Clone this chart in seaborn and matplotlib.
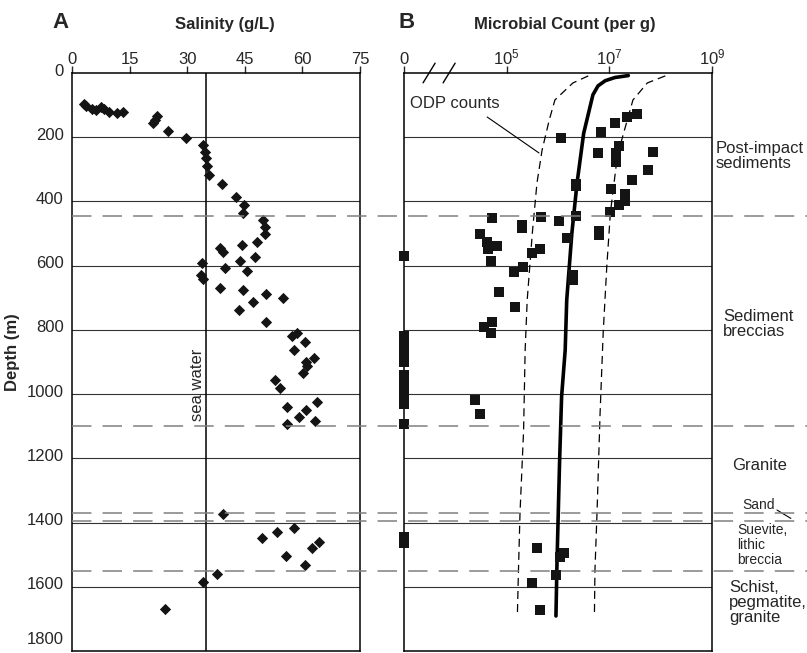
import numpy as np
import seaborn as sns
import matplotlib.pyplot as plt
from matplotlib import transforms
from matplotlib.lines import Line2D
from matplotlib.ticker import NullLocator

sns.set_style("ticks")
plt.rcParams["font.family"] = ["Liberation Sans", "DejaVu Sans"]
plt.rcParams["mathtext.fontset"] = "custom"
plt.rcParams["mathtext.rm"] = "Liberation Sans"
plt.rcParams["lines.scale_dashes"] = False

# Panel A: pore water salinity (g/L) vs depth (m)
salinity = [3.0, 3.6, 5.3, 6.3, 7.5, 8.3, 9.6, 11.6, 13.3,
            22.1, 21.7, 21.2, 25.1, 29.7, 34.0, 34.6, 34.8, 35.1, 35.8, 39.1,
            42.6, 44.7, 44.5, 49.8, 50.3, 50.3, 48.3, 44.4, 38.5, 39.4, 47.7,
            43.8, 39.8, 45.7, 33.9, 33.5, 34.2, 38.6, 44.5, 50.4, 55.0, 47.2,
            43.5, 50.5, 57.2, 58.5, 60.8, 57.9, 63.1, 60.9, 61.3, 60.1, 52.9,
            54.2, 56.1, 63.7, 60.9, 59.2, 56.1, 63.3, 39.4, 49.6, 53.4, 57.7,
            55.7, 62.4, 64.4, 60.7, 37.8, 34.2, 24.2]
salinity_depth = [97, 102, 112, 115, 107, 112, 122, 125, 120,
                  134, 145, 155, 181, 203, 224, 245, 265, 289, 317, 346,
                  385, 411, 437, 458, 480, 501, 525, 535, 545, 557, 572,
                  585, 607, 617, 593, 629, 643, 668, 676, 689, 702, 714,
                  738, 775, 819, 809, 837, 862, 888, 901, 914, 935, 956,
                  982, 1040, 1024, 1050, 1072, 1094, 1083, 1374, 1447, 1430, 1416,
                  1504, 1479, 1461, 1532, 1561, 1586, 1670]
sea_water = 35

# Panel B: microbial counts (log10 per g) vs depth (m)
count_log = [7.54, 7.34, 7.11, 6.84, 6.05, 7.19, 6.78, 7.13, 7.13, 7.85,
             7.76, 7.45, 6.35, 6.35, 7.03, 7.31, 7.31, 7.18, 7.02, 4.71,
             5.66, 6.35, 6.01, 5.29, 5.29, 6.79, 6.79, 4.48, 6.17, 4.61,
             4.81, 4.64, 5.64, 5.49, 4.70, 5.31, 5.14, 6.29, 6.29, 4.86,
             5.16, 4.71, 4.56, 4.70, 4.38, 4.48, 5.59, 6.12, 6.03, 5.96,
             5.50, 5.65]
count_depth = [127, 138, 155, 183, 203, 228, 250, 250, 276, 245,
               302, 333, 346, 353, 362, 378, 399, 411, 432, 450,
               448, 445, 460, 473, 483, 491, 504, 501, 515, 525,
               538, 549, 549, 562, 585, 605, 619, 629, 645, 683,
               730, 775, 790, 809, 1017, 1063, 1480, 1494, 1508, 1564,
               1588, 1672]
zero_count_depth = [570, 818, 832, 846, 860, 874, 888, 900, 940, 962,
                    985, 1000, 1015, 1030, 1094, 1445, 1465]

# ODP regression and prediction limits
odp_mean_log = [7.37, 7.11, 6.92, 6.78, 6.68, 6.50, 6.37, 6.27, 6.17, 6.14, 6.07, 6.03, 5.98, 5.96]
odp_mean_depth = [8, 14, 24, 40, 68, 188, 344, 499, 707, 863, 1008, 1215, 1527, 1691]
odp_low_log = [6.59, 6.29, 5.94, 5.83, 5.69, 5.59, 5.50, 5.40, 5.36, 5.33, 5.26, 5.23, 5.21]
odp_low_depth = [9, 31, 84, 146, 240, 343, 498, 707, 863, 1112, 1370, 1548, 1679]
odp_high_log = [8.09, 7.74, 7.46, 7.24, 7.13, 7.02, 6.95, 6.88, 6.82, 6.76, 6.72, 6.71]
odp_high_depth = [9, 31, 84, 209, 293, 436, 604, 810, 1059, 1370, 1548, 1679]

depth_ticks = list(range(0, 1801, 200))
salinity_ticks = [0, 15, 30, 45, 60, 75]
count_ticks = [1e3, 1e5, 1e7, 1e9]
count_tick_labels = ["0", r"$\mathregular{10^5}$", r"$\mathregular{10^7}$", r"$\mathregular{10^9}$"]
unit_boundaries = [445, 1098, 1371, 1394, 1550]

W, H = 807, 653
fig = plt.figure(figsize=(W / 100, H / 100), dpi=100)
axA = fig.add_axes([72 / W, 1 - 651 / H, 288 / W, 578 / H])
axB = fig.add_axes([404 / W, 1 - 651 / H, 308 / W, 578 / H])

ink = "#141414"

# ---- panel A ----
for d in depth_ticks[1:-1]:
    axA.axhline(d, color="#333333", lw=0.8, zorder=1)
axA.axvline(sea_water, color="k", lw=1.1, zorder=2)
sns.scatterplot(x=salinity, y=salinity_depth, marker="D", s=33, color=ink,
                linewidth=0, ax=axA, zorder=3)
axA.set_xlim(0, 75)
axA.set_ylim(1800, 0)
axA.xaxis.set_ticks_position("top")
axA.set_xticks(salinity_ticks)
axA.set_yticks(depth_ticks)
axA.tick_params(axis="x", direction="out", length=5, width=1, pad=-1, labelsize=12,
                top=True, bottom=False, labeltop=True, labelbottom=False)
axA.tick_params(axis="y", length=0, pad=6, labelsize=12)
offset = transforms.ScaledTranslation(0, 0.035, fig.dpi_scale_trans)
ylabels = axA.get_yticklabels()
for lab in ylabels:
    lab.set_transform(lab.get_transform() + offset)
ylabels[-1].set_va("bottom")
axA.text(34.6, 972, "sea water", rotation=90, ha="right", va="center", fontsize=12)

# ---- panel B ----
axB.set_xscale("log")
for d in depth_ticks[1:-1]:
    axB.axhline(d, color="#333333", lw=0.8, zorder=1)
sns.lineplot(x=10 ** np.array(odp_low_log), y=odp_low_depth, sort=False, estimator=None,
             color="k", lw=0.9, linestyle=(0, (5.8, 3.6)), ax=axB, zorder=2)
sns.lineplot(x=10 ** np.array(odp_high_log), y=odp_high_depth, sort=False, estimator=None,
             color="k", lw=0.9, linestyle=(0, (5.8, 3.6)), ax=axB, zorder=2)
sns.lineplot(x=10 ** np.array(odp_mean_log), y=odp_mean_depth, sort=False, estimator=None,
             color="k", lw=2.6, ax=axB, zorder=2)
sns.scatterplot(x=10 ** np.array(count_log), y=count_depth, marker="s", s=50, color=ink,
                linewidth=0, ax=axB, zorder=3)
sns.scatterplot(x=[1e3] * len(zero_count_depth), y=zero_count_depth, marker="s", s=50,
                color=ink, linewidth=0, ax=axB, zorder=3, clip_on=False)
axB.set_xlim(1e3, 1e9)
axB.set_ylim(1800, 0)
axB.xaxis.set_ticks_position("top")
axB.set_xticks(count_ticks)
axB.set_xticklabels(count_tick_labels)
axB.xaxis.set_minor_locator(NullLocator())
axB.tick_params(axis="x", direction="out", length=5, width=1, pad=-1, labelsize=12,
                top=True, bottom=False, labeltop=True, labelbottom=False)
axB.tick_params(axis="y", left=False, labelleft=False)

# axis break marks
for x0 in (0.062, 0.127):
    axB.plot([x0, x0 + 0.039], [0.983, 1.017], transform=axB.transAxes,
             color="k", lw=1.0, clip_on=False)

axB.text(0.02, 0.948, "ODP counts", transform=axB.transAxes, fontsize=12,
         ha="left", va="center")
axB.plot([10 ** 4.62, 10 ** 5.63], [137, 249], color="k", lw=0.8)

for ax in (axA, axB):
    ax.set_xlabel("")
    ax.set_ylabel("")
    for sp in ax.spines.values():
        sp.set_visible(True)
        sp.set_color("k")
        sp.set_linewidth(1.1)

# stratigraphic unit labels
bt = transforms.blended_transform_factory(axB.transAxes, axB.transData)
axB.text(1.013, 258, "Post-impact\nsediments", transform=bt, fontsize=12, ha="left",
         va="center", linespacing=1.05, clip_on=False)
axB.text(1.036, 782, "Sediment\nbreccias", transform=bt, fontsize=12, ha="left",
         va="center", linespacing=1.05, clip_on=False)
axB.text(1.065, 1221, "Granite", transform=bt, fontsize=12, ha="left", va="center",
         clip_on=False)
axB.text(1.100, 1345, "Sand", transform=bt, fontsize=10, ha="left", va="center",
         clip_on=False)
axB.plot([1.211, 1.256], [1361, 1387], transform=bt, color="k", lw=0.8, clip_on=False)
axB.text(1.081, 1470, "Suevite,\nlithic\nbreccia", transform=bt, fontsize=10, ha="left",
         va="center", linespacing=1.05, clip_on=False)
axB.text(1.055, 1650, "Schist,\npegmatite,\ngranite", transform=bt, fontsize=12,
         ha="left", va="center", linespacing=1.0, clip_on=False)

# unit boundaries across both panels
ft = transforms.blended_transform_factory(fig.transFigure, axA.transData)
for d in unit_boundaries:
    fig.add_artist(Line2D([72 / W, 1.0], [d, d], transform=ft, color="#808080",
                          lw=1.1, dashes=(14, 8)))

fig.text(225 / W, 1 - 25 / H, "Salinity (g/L)", ha="center", va="center",
         fontsize=12, fontweight="bold")
fig.text(565 / W, 1 - 25 / H, "Microbial Count (per g)", ha="center", va="center",
         fontsize=12, fontweight="bold")
fig.text(52 / W, 1 - 23 / H, "A", ha="left", va="center", fontsize=16, fontweight="bold")
fig.text(399 / W, 1 - 23 / H, "B", ha="left", va="center", fontsize=16, fontweight="bold")
fig.text(13 / W, 1 - 352 / H, "Depth (m)", rotation=90, ha="center", va="center",
         fontsize=12, fontweight="bold")

fig.savefig("out.png", dpi=100)
